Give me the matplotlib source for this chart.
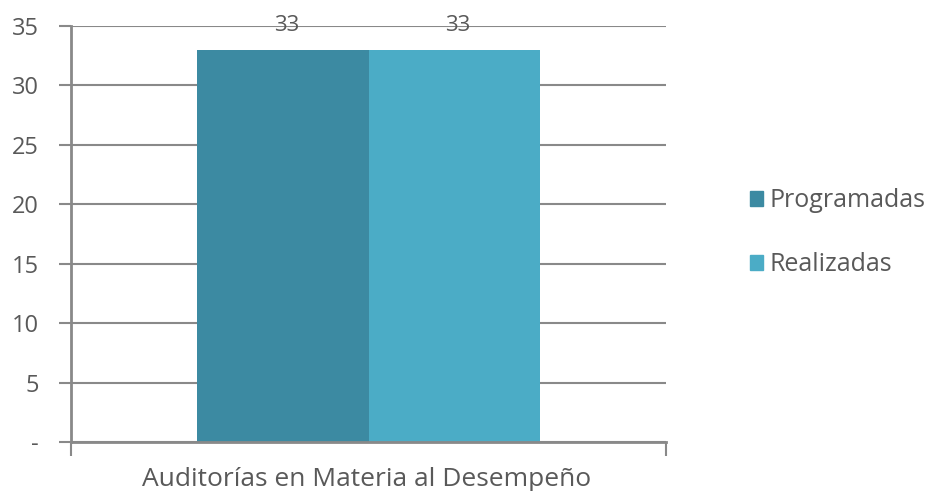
import matplotlib.pyplot as plt
from matplotlib.patches import Patch

categories = ['Auditorías en Materia al Desempeño']
series = ['Programadas', 'Realizadas']
programadas = [33]
realizadas = [33]
colors = ['#3C8AA2', '#4BACC6']
yticks = [0, 5, 10, 15, 20, 25, 30, 35]
ytick_labels = ['-', '5', '10', '15', '20', '25', '30', '35']

plt.rcParams['font.family'] = ['Open Sans', 'DejaVu Sans']
txt = '#595959'
gray = '#898989'

fig = plt.figure(figsize=(9.49, 4.91), dpi=100)
ax = fig.add_axes([71 / 949, 1 - 442 / 491, 595 / 949, 416 / 491])

w = 0.2874
x = range(len(categories))
for i, (vals, name) in enumerate(zip([programadas, realizadas], series)):
    pos = [k + (i - 0.5) * w for k in x]
    bars = ax.bar(pos, vals, width=w, color=colors[i], label=name, zorder=3)
    for b in bars:
        ax.annotate(str(int(b.get_height())), (b.get_x() + b.get_width() / 2, b.get_height()),
                    xytext=(3, 10), textcoords='offset points', ha='center', va='bottom',
                    fontsize=16, color=txt, zorder=5)

ax.set_xlim(-0.5, 0.5)
ax.set_ylim(0, 35)
ax.set_yticks(yticks)
ax.set_yticklabels(ytick_labels)
ax.set_xticks([-0.5, 0.5], minor=False)
ax.set_xticklabels(['', ''])
ax.tick_params(axis='x', length=10, color=gray, width=1.5)
ax.tick_params(axis='y', length=9, color=gray, width=1.5, labelsize=17, labelcolor=txt, pad=14)
ax.text(-0.003, -0.06, categories[0], transform=ax.get_xaxis_transform(), ha='center', va='top',
        fontsize=19, color=txt)

ax.grid(axis='y', color=gray, linewidth=1.5, zorder=0)
for s in ['top', 'right']:
    ax.spines[s].set_visible(False)
for s in ['left', 'bottom']:
    ax.spines[s].set_color(gray)
    ax.spines[s].set_linewidth(2)
    ax.spines[s].set_zorder(4)

handles = [Patch(color=c, label=n) for c, n in zip(colors, series)]
fig.legend(handles=handles, loc='upper left', bbox_to_anchor=(737 / 949, 1 - 176 / 491),
           frameon=False, fontsize=18, labelcolor=txt, handlelength=0.55, handleheight=0.55,
           handletextpad=0.25, labelspacing=1.55, borderpad=0)

fig.savefig('out.png', dpi=100)
